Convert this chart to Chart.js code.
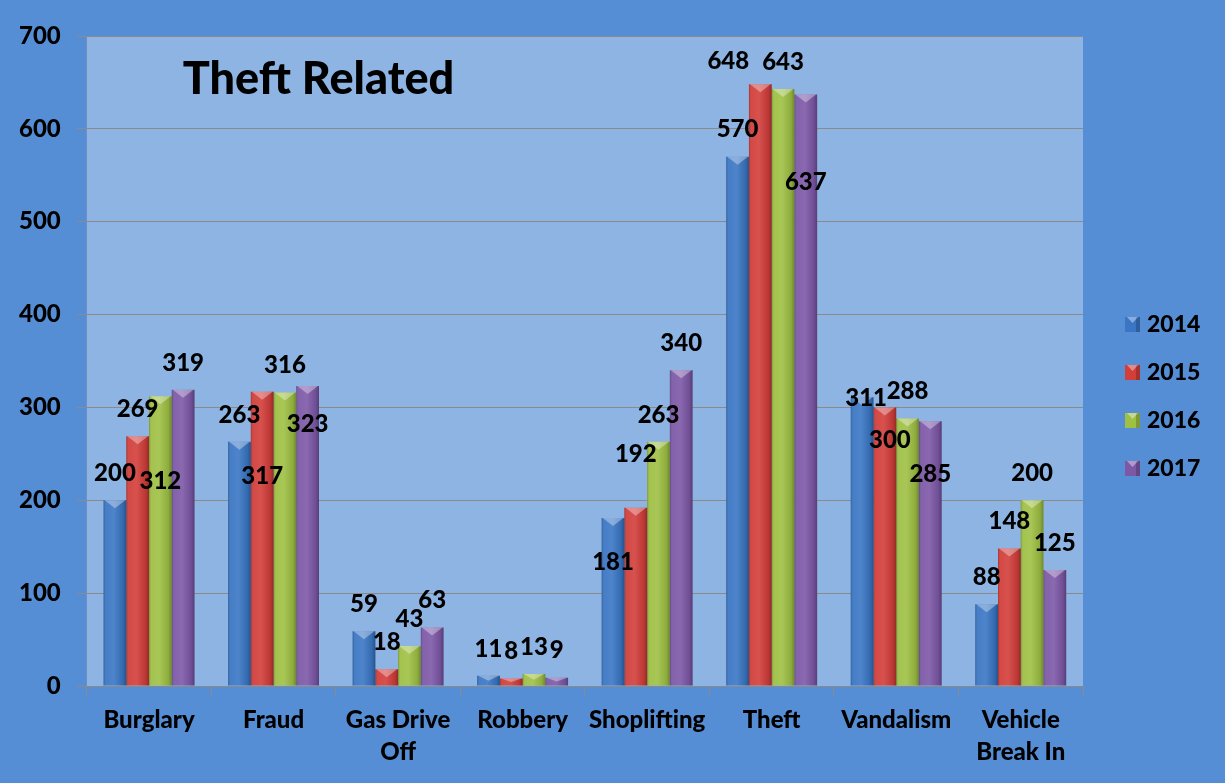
<!DOCTYPE html>
<html>
<head>
<meta charset="utf-8">
<script src="https://cdn.jsdelivr.net/npm/chart.js@4.4.1/dist/chart.umd.min.js"></script>
<style>
  html, body { margin: 0; padding: 0; background: #558ed5; }
  #wrap { width: 1225px; height: 783px; }
</style>
</head>
<body>
<div id="wrap"><canvas id="theftChart"></canvas></div>
<script>
// Data
const categories = ['Burglary', 'Fraud', ['Gas Drive', 'Off'], 'Robbery', 'Shoplifting', 'Theft', 'Vandalism', ['Vehicle', 'Break In']];
const years = ['2014', '2015', '2016', '2017'];
const counts2014 = [200, 263, 59, 11, 181, 570, 311, 88];
const counts2015 = [269, 317, 18, 8, 192, 648, 300, 148];
const counts2016 = [312, 316, 43, 13, 263, 643, 288, 200];
const counts2017 = [319, 323, 63, 9, 340, 637, 285, 125];
const yTicks = [0, 100, 200, 300, 400, 500, 600, 700];

const seriesColors = ['#3a76c4', '#d23e3a', '#9ec043', '#7d58a7'];
const FONT = 'Lato, "Noto Sans", sans-serif';

// some value labels were dragged around in the original, "series,category": [dx, dy]
const labelShift = {
  '2,0': [0, 112],
  '1,1': [0, 112],
  '3,1': [0, 65],
  '0,4': [0, 71],
  '1,4': [0, -26],
  '1,5': [-32, 4],
  '3,5': [0, 115],
  '0,6': [4, 28],
  '1,6': [5, 60],
  '3,6': [0, 80]
};

// plot area + outer background
const backgroundPlugin = {
  id: 'backgroundPlugin',
  beforeDraw(chart) {
    const { ctx, chartArea } = chart;
    ctx.save();
    ctx.fillStyle = '#558ed5';
    ctx.fillRect(0, 0, chart.width, chart.height);
    ctx.fillStyle = '#8db4e3';
    ctx.fillRect(chartArea.left, chartArea.top, chartArea.right - chartArea.left, chartArea.bottom - chartArea.top);
    ctx.restore();
  }
};

// bevel shading on bars + value labels + title
const barDecorPlugin = {
  id: 'barDecorPlugin',
  afterDatasetsDraw(chart) {
    const { ctx, chartArea } = chart;
    ctx.save();
    chart.data.datasets.forEach((ds, i) => {
      const meta = chart.getDatasetMeta(i);
      meta.data.forEach((bar) => {
        const { x, y, base, width } = bar.getProps(['x', 'y', 'base', 'width'], true);
        const left = x - width / 2;
        const g = ctx.createLinearGradient(left, 0, left + width, 0);
        g.addColorStop(0, 'rgba(0,0,0,0.22)');
        g.addColorStop(0.12, 'rgba(255,255,255,0.06)');
        g.addColorStop(0.45, 'rgba(255,255,255,0.10)');
        g.addColorStop(0.85, 'rgba(0,0,0,0.10)');
        g.addColorStop(1, 'rgba(0,0,0,0.30)');
        ctx.fillStyle = g;
        ctx.fillRect(left, y, width, base - y);
        // light triangle on top
        const tri = Math.min(8, (base - y) / 2);
        ctx.fillStyle = 'rgba(255,255,255,0.35)';
        ctx.beginPath();
        ctx.moveTo(left + 1, y);
        ctx.lineTo(left + width - 1, y);
        ctx.lineTo(x, y + tri);
        ctx.closePath();
        ctx.fill();
      });
    });

    ctx.fillStyle = '#000';
    ctx.font = '900 24px ' + FONT;
    ctx.textAlign = 'center';
    ctx.textBaseline = 'middle';
    chart.data.datasets.forEach((ds, i) => {
      const meta = chart.getDatasetMeta(i);
      meta.data.forEach((bar, j) => {
        const shift = labelShift[i + ',' + j] || [0, 0];
        ctx.fillText(String(ds.data[j]), bar.x + shift[0], bar.y - 27 + shift[1]);
      });
    });

    ctx.font = '900 45px ' + FONT;
    ctx.textAlign = 'left';
    ctx.fillText('Theft Related', chartArea.left + 96, chartArea.top + 43);
    ctx.restore();
  }
};

// legend on the right, drawn by hand so it sits where the original had it
const sideLegendPlugin = {
  id: 'sideLegendPlugin',
  afterDraw(chart) {
    const { ctx, chartArea } = chart;
    const top = (chartArea.top + chartArea.bottom) / 2 - 37;
    const bx = chartArea.right + 42;
    ctx.save();
    ctx.font = '900 23px ' + FONT;
    ctx.textBaseline = 'middle';
    ctx.textAlign = 'left';
    chart.data.datasets.forEach((ds, i) => {
      const cy = top + i * 48;
      ctx.fillStyle = ds.backgroundColor;
      ctx.fillRect(bx, cy - 7, 15, 15);
      ctx.fillStyle = 'rgba(0,0,0,0.2)';
      ctx.fillRect(bx + 11, cy - 7, 4, 15);
      ctx.fillStyle = 'rgba(255,255,255,0.4)';
      ctx.beginPath();
      ctx.moveTo(bx + 2, cy - 7);
      ctx.lineTo(bx + 13, cy - 7);
      ctx.lineTo(bx + 7.5, cy - 1);
      ctx.closePath();
      ctx.fill();
      ctx.fillStyle = '#000';
      ctx.fillText(ds.label, bx + 22, cy + 1);
    });
    ctx.restore();
  }
};

const allCounts = [counts2014, counts2015, counts2016, counts2017];

const theftChart = new Chart(document.getElementById('theftChart'), {
  type: 'bar',
  data: {
    labels: categories,
    datasets: years.map((yr, i) => ({
      label: yr,
      data: allCounts[i],
      backgroundColor: seriesColors[i],
      borderWidth: 0,
      categoryPercentage: 0.73,
      barPercentage: 1.0
    }))
  },
  options: {
    responsive: true,
    maintainAspectRatio: false,
    animation: false,
    layout: {
      padding: { left: 3, right: 142, top: 36, bottom: 7 }
    },
    plugins: {
      legend: { display: false },
      tooltip: { enabled: false }
    },
    scales: {
      x: {
        grid: {
          display: true,
          drawOnChartArea: false,
          drawTicks: true,
          tickLength: 10,
          color: '#8a8a8a'
        },
        border: { color: '#8a8a8a' },
        ticks: {
          color: '#000',
          padding: 8,
          maxRotation: 0,
          autoSkip: false,
          font: { family: FONT, size: 24, weight: '900', lineHeight: 1.3333 }
        }
      },
      y: {
        min: yTicks[0],
        max: yTicks[yTicks.length - 1],
        grid: {
          color: '#8a8a8a',
          tickLength: 10
        },
        border: { color: '#6f8fc0' },
        ticks: {
          stepSize: yTicks[1] - yTicks[0],
          color: '#000',
          padding: 16,
          font: { family: FONT, size: 24, weight: '900' }
        }
      }
    }
  },
  plugins: [backgroundPlugin, barDecorPlugin, sideLegendPlugin]
});
</script>
</body>
</html>
